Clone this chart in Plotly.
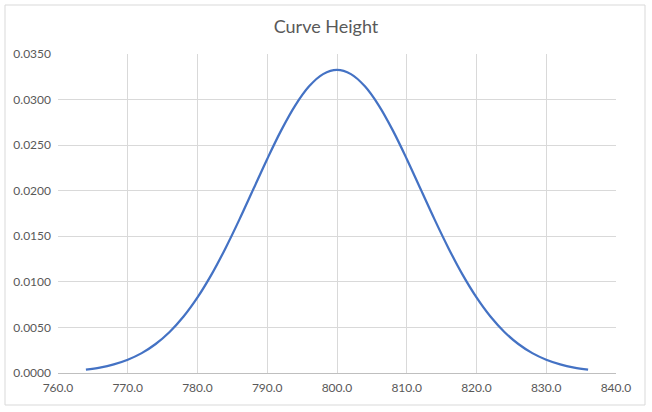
import plotly.graph_objects as go

x_vals = [764, 766, 768, 770, 772, 774, 776, 778, 780, 782, 784, 786, 788, 790, 792, 794, 796, 798,
          800, 802, 804, 806, 808, 810, 812, 814, 816, 818, 820, 822, 824, 826, 828, 830, 832, 834, 836]
heights = [0.00037, 0.00060, 0.00095, 0.00146, 0.00218, 0.00318, 0.00450, 0.00619, 0.00829, 0.01079,
           0.01367, 0.01683, 0.02016, 0.02349, 0.02662, 0.02934, 0.03145, 0.03279,
           0.03325,
           0.03279, 0.03145, 0.02934, 0.02662, 0.02349, 0.02016, 0.01683, 0.01367, 0.01079, 0.00829,
           0.00619, 0.00450, 0.00318, 0.00218, 0.00146, 0.00095, 0.00060, 0.00037]

fig = go.Figure()
fig.add_trace(go.Scatter(x=x_vals, y=heights, mode="lines",
                         line=dict(color="#4472C4", width=2.25, shape="spline"),
                         hoverinfo="skip", showlegend=False))

font_family = "Lato, 'Open Sans', sans-serif"
fig.update_layout(
    width=652, height=412,
    margin=dict(l=58, r=36, t=54, b=39),
    paper_bgcolor="white", plot_bgcolor="white",
    title=dict(text="Curve Height", x=0.5, xanchor="center", y=1 - 27 / 412, yanchor="middle",
               font=dict(family=font_family, size=18, color="#595959")),
    font=dict(family=font_family, size=12, color="#595959"),
    xaxis=dict(range=[760, 840], dtick=10, tick0=760, tickformat=".1f",
               showgrid=True, gridcolor="#D9D9D9", gridwidth=1,
               zeroline=False, showline=True, linecolor="#BFBFBF", linewidth=1,
               ticks="", ticklabelstandoff=4, tickfont=dict(size=12, color="#595959")),
    yaxis=dict(range=[0, 0.035], dtick=0.005, tickformat=".4f",
               showgrid=True, gridcolor="#D9D9D9", gridwidth=1,
               zeroline=False, showline=False,
               ticks="", ticklabelstandoff=6, tickfont=dict(size=12, color="#595959")),
    shapes=[dict(type="rect", xref="paper", yref="paper",
                 x0=(5 - 58) / 558, x1=(645 - 58) / 558,
                 y0=(373 - 405) / 319, y1=(373 - 5) / 319,
                 line=dict(color="#D9D9D9", width=1), fillcolor="rgba(0,0,0,0)", layer="below")],
)

fig.write_html("out.html", config={"displayModeBar": False},
               post_script="document.body.style.margin='0';document.body.style.padding='0';")
